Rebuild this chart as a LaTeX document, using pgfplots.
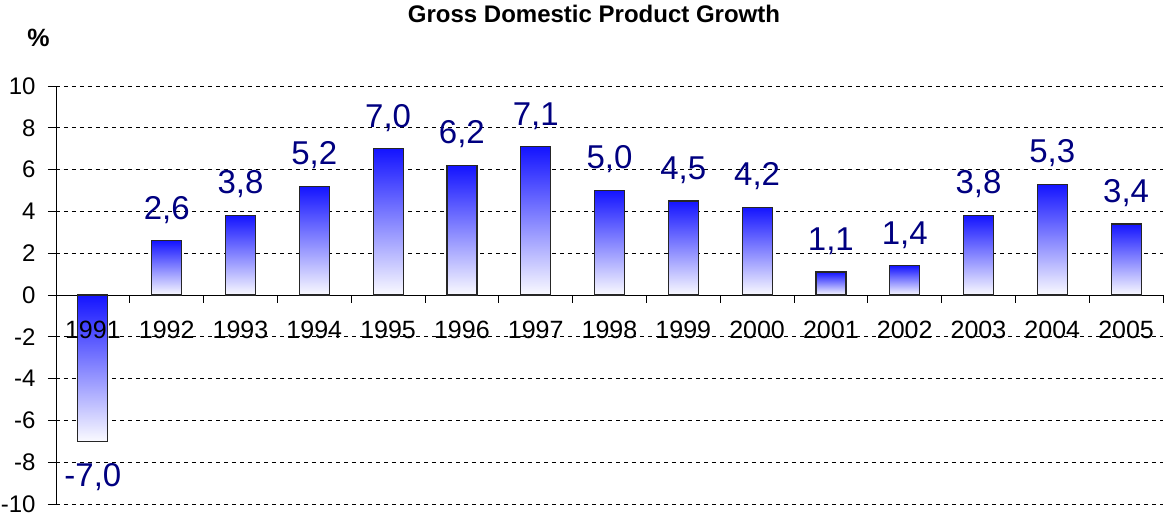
\documentclass[border=0pt]{standalone}
\usepackage{fontspec}
\setmainfont{Liberation Sans}
\usepackage{pgfplots}
\pgfplotsset{compat=1.18}
\definecolor{barblue}{RGB}{20,20,255}
\definecolor{barwhite}{RGB}{250,250,255}
\definecolor{labnavy}{RGB}{0,0,128}
\pgfplotsset{
  gdpbar/.style={ybar, bar width=30pt, bar shift=0pt, draw=black!85, line width=1.2pt,
    top color=barblue, bottom color=barwhite, forget plot},
}
\tikzset{yearlab/.style={anchor=base, font=\fontsize{25}{29}\selectfont, yshift=-43.5pt, inner sep=0pt}}
\begin{document}
\begin{tikzpicture}
\begin{axis}[
  scale only axis, width=1107pt, height=418pt,
  anchor=south west, at={(0pt,0pt)},
  xmin=-0.5, xmax=14.5, ymin=-10, ymax=10,
  enlargelimits=false,
  axis x line=middle, axis y line=left,
  axis line style={-, black, line width=0.8pt},
  clip=false,
  hide obscured x ticks=false, hide obscured y ticks=false,
  ytick={-10,-8,...,10},
  ymajorgrids,
  grid style={black, line width=0.7pt, dash pattern=on 4pt off 4pt},
  xtick={0.5,1.5,...,14.5},
  xticklabels={},
  major tick length=8pt,
  tick align=outside,
  tick style={black, line width=0.8pt},
  /pgf/number format/assume math mode=true,
  yticklabel style={font=\fontsize{24}{28}\selectfont, xshift=-9pt},
  ybar,
  bar width=30pt,
  nodes near coords,
  nodes near coords style={font=\fontsize{33}{39}\selectfont, text=labnavy,
     inner xsep=0pt, inner ysep=21pt, text height=23.6pt, text depth=0pt,
     /pgf/number format/.cd, use comma, fixed, fixed zerofill, precision=1, assume math mode=true},
]
\addplot[gdpbar] coordinates {(0,-7.0)};
\addplot[gdpbar] coordinates {(1,2.6)};
\addplot[gdpbar] coordinates {(2,3.8)};
\addplot[gdpbar] coordinates {(3,5.2)};
\addplot[gdpbar] coordinates {(4,7.0)};
\addplot[gdpbar] coordinates {(5,6.2)};
\addplot[gdpbar] coordinates {(6,7.1)};
\addplot[gdpbar] coordinates {(7,5.0)};
\addplot[gdpbar] coordinates {(8,4.5)};
\addplot[gdpbar] coordinates {(9,4.2)};
\addplot[gdpbar] coordinates {(10,1.1)};
\addplot[gdpbar] coordinates {(11,1.4)};
\addplot[gdpbar] coordinates {(12,3.8)};
\addplot[gdpbar] coordinates {(13,5.3)};
\addplot[gdpbar] coordinates {(14,3.4)};
\node[yearlab] at (axis cs:0,0) {1991};
\node[yearlab] at (axis cs:1,0) {1992};
\node[yearlab] at (axis cs:2,0) {1993};
\node[yearlab] at (axis cs:3,0) {1994};
\node[yearlab] at (axis cs:4,0) {1995};
\node[yearlab] at (axis cs:5,0) {1996};
\node[yearlab] at (axis cs:6,0) {1997};
\node[yearlab] at (axis cs:7,0) {1998};
\node[yearlab] at (axis cs:8,0) {1999};
\node[yearlab] at (axis cs:9,0) {2000};
\node[yearlab] at (axis cs:10,0) {2001};
\node[yearlab] at (axis cs:11,0) {2002};
\node[yearlab] at (axis cs:12,0) {2003};
\node[yearlab] at (axis cs:13,0) {2004};
\node[yearlab] at (axis cs:14,0) {2005};
\node[anchor=base, font=\bfseries\fontsize{24}{28}\selectfont, yshift=63pt]
  at (rel axis cs:0.486,1) {Gross Domestic Product Growth};
\node[anchor=base, font=\bfseries\fontsize{25}{29}\selectfont, xshift=-17.5pt, yshift=39pt]
  at (rel axis cs:0,1) {\%};
\end{axis}
\pgfresetboundingbox
\path (-56pt,-15pt) rectangle (1110pt,504pt);
\end{tikzpicture}
\end{document}
